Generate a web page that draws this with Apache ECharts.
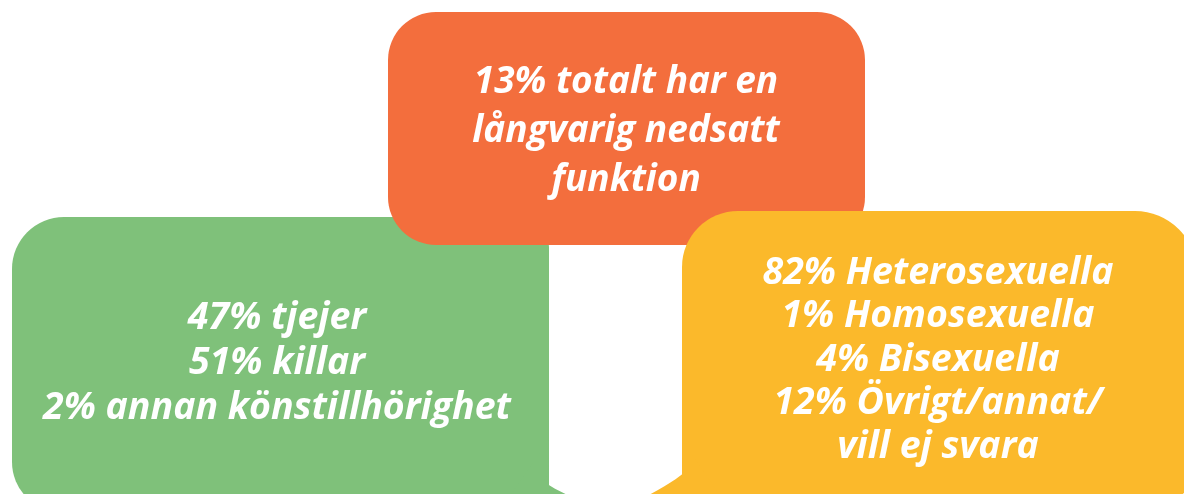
<!DOCTYPE html>
<html>
<head>
<meta charset="utf-8">
<script src="https://cdn.jsdelivr.net/npm/echarts@6/dist/echarts.min.js"></script>
<style>
  html, body { margin: 0; padding: 0; background: #ffffff; }
  #main { width: 1184px; height: 494px; }
</style>
</head>
<body>
<div id="main"></div>
<script>
// text of the three boxes
var orangeLines = ['13% totalt har en', 'långvarig nedsatt', 'funktion'];
var greenLines = ['47% tjejer', '51% killar', '2% annan könstillhörighet'];
var yellowLines = ['82% Heterosexuella', '1% Homosexuella', '4% Bisexuella', '12% Övrigt/annat/', 'vill ej svara'];

var ORANGE = '#f36e3d';
var GREEN = '#7fc17a';
var YELLOW = '#fbb92b';

// points along a quadratic curve, used for the bubble tails
function quad(p0, c, p1, n) {
    var pts = [];
    for (var i = 0; i <= n; i++) {
        var t = i / n, u = 1 - t;
        pts.push([
            u * u * p0[0] + 2 * u * t * c[0] + t * t * p1[0],
            u * u * p0[1] + 2 * u * t * c[1] + t * t * p1[1]
        ]);
    }
    return pts;
}

var greenTail = [[549, 440]]
    .concat(quad([549, 458], [549, 478], [543, 481], 6))
    .concat(quad([543, 481], [556, 491], [585, 502], 8))
    .concat([[585, 510], [500, 510]]);

var yellowTail = [[682, 440]]
    .concat(quad([682, 458], [682, 468], [685, 472], 6))
    .concat(quad([685, 472], [668, 486], [635, 502], 8))
    .concat([[635, 510], [730, 510]]);

function label(lines, x, y, size, lh) {
    return {
        type: 'text',
        x: x,
        y: y,
        style: {
            text: lines.join('\n'),
            fill: '#ffffff',
            fontFamily: 'Open Sans',
            fontSize: size,
            fontWeight: 'bold',
            fontStyle: 'italic',
            lineHeight: lh,
            align: 'center',
            verticalAlign: 'middle'
        }
    };
}

var chart = echarts.init(document.getElementById('main'), null, {renderer: 'canvas'});

chart.setOption({
    backgroundColor: '#ffffff',
    animation: false,
    graphic: [
        // green box (back)
        {type: 'rect', shape: {x: 12, y: 217, width: 537, height: 295, r: [52, 30, 0, 50]}, style: {fill: GREEN}},
        {type: 'polygon', shape: {points: greenTail}, style: {fill: GREEN}},
        // orange box (middle)
        {type: 'rect', shape: {x: 388, y: 12, width: 477, height: 233, r: 48}, style: {fill: ORANGE}},
        // yellow box (front)
        {type: 'rect', shape: {x: 682, y: 211, width: 515, height: 298, r: [56, 62, 50, 0]}, style: {fill: YELLOW}},
        {type: 'polygon', shape: {points: yellowTail}, style: {fill: YELLOW}},
        label(orangeLines, 626, 131, 37, 49),
        label(greenLines, 277, 363, 37.5, 45),
        label(yellowLines, 938, 360, 37.5, 43.5)
    ]
});
</script>
</body>
</html>
